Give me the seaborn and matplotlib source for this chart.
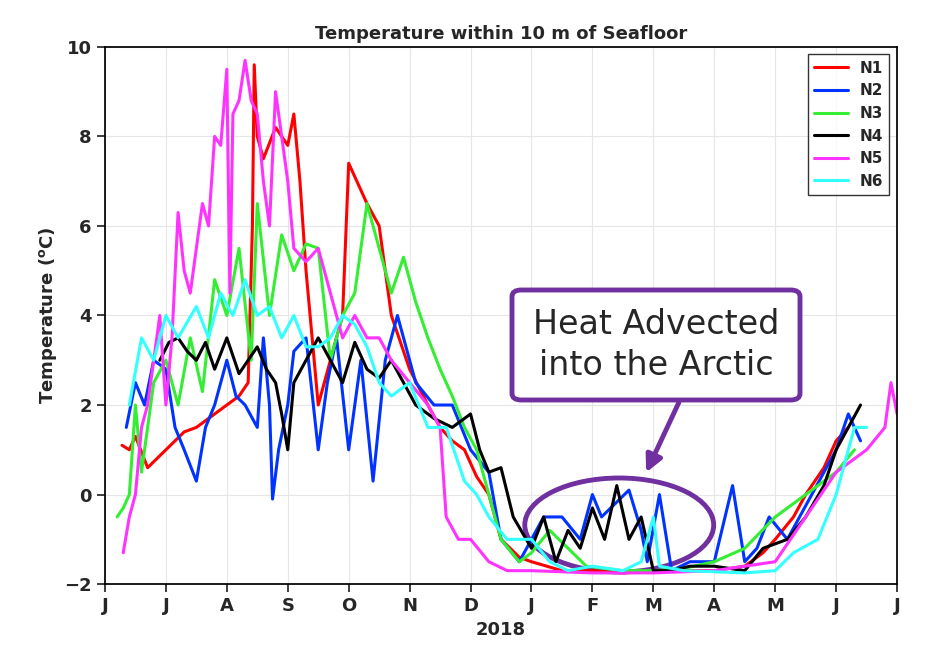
import matplotlib
matplotlib.use("Agg")
import matplotlib.pyplot as plt
import seaborn as sns
import pandas as pd
from matplotlib.patches import Ellipse, FancyBboxPatch

sns.set_theme(style="ticks")
plt.rcParams['font.family'] = ['DejaVu Sans']

month_ticks = list(range(14))
month_labels = ["J","J","A","S","O","N","D","J","F","M","A","M","J","J"]

n1_x = [0.28,0.4,0.5,0.7,1.0,1.3,1.5,1.8,2.0,2.2,2.35,2.42,2.45,2.5,2.6,2.8,3.0,3.1,3.2,3.3,3.4,3.5,3.7,3.9,4.0,4.2,4.3,4.5,4.6,4.7,4.9,5.0,5.3,5.5,5.7,5.9,6.1,6.3,6.5,6.8,7.0,7.5,8.0,8.5,9.0,9.5,10.0,10.5,10.8,11.0,11.3,11.5,11.8,12.0,12.2]
n1_y = [1.1,1.0,1.3,0.6,1.0,1.4,1.5,1.8,2.0,2.2,2.5,6.0,9.6,8.0,7.5,8.2,7.8,8.5,7.0,5.0,3.5,2.0,3.0,4.0,7.4,6.8,6.5,6.0,5.0,4.0,3.2,2.8,2.0,1.5,1.2,1.0,0.4,0.0,-1.0,-1.4,-1.5,-1.7,-1.7,-1.75,-1.7,-1.7,-1.7,-1.6,-1.3,-1.0,-0.5,0.0,0.6,1.2,1.5]

n2_x = [0.35,0.5,0.65,0.8,1.0,1.15,1.3,1.5,1.65,1.8,2.0,2.15,2.3,2.5,2.6,2.7,2.75,2.85,3.0,3.1,3.3,3.5,3.65,3.8,4.0,4.2,4.4,4.6,4.8,5.0,5.1,5.4,5.7,6.0,6.3,6.5,6.8,7.0,7.2,7.5,7.8,8.0,8.15,8.3,8.6,8.8,8.9,9.1,9.3,9.6,10.0,10.3,10.5,10.7,10.9,11.2,11.6,12.0,12.2,12.4]
n2_y = [1.5,2.5,2.0,3.0,2.8,1.5,1.0,0.3,1.5,2.0,3.0,2.2,2.0,1.5,3.5,2.0,-0.1,1.0,2.0,3.2,3.5,1.0,2.5,3.5,1.0,3.0,0.3,3.0,4.0,3.0,2.5,2.0,2.0,1.0,0.5,-1.0,-1.5,-1.0,-0.5,-0.5,-1.0,0.0,-0.5,-0.3,0.1,-0.8,-1.5,0.0,-1.7,-1.5,-1.5,0.2,-1.5,-1.2,-0.5,-1.0,0.0,1.0,1.8,1.2]

n3_x = [0.2,0.3,0.4,0.5,0.6,0.8,1.0,1.2,1.4,1.6,1.8,2.0,2.2,2.4,2.5,2.7,2.9,3.1,3.3,3.5,3.7,3.9,4.1,4.3,4.5,4.7,4.9,5.1,5.3,5.5,5.7,5.9,6.1,6.3,6.5,6.8,7.0,7.3,7.6,7.9,8.5,9.0,9.5,10.0,10.5,11.0,11.5,12.0,12.3]
n3_y = [-0.5,-0.3,0.0,2.0,0.5,2.5,3.0,2.0,3.5,2.3,4.8,4.0,5.5,3.0,6.5,4.0,5.8,5.0,5.6,5.5,3.0,4.0,4.5,6.5,5.5,4.5,5.3,4.3,3.5,2.8,2.2,1.5,1.0,0.0,-1.0,-1.5,-1.3,-0.8,-1.2,-1.6,-1.7,-1.7,-1.65,-1.5,-1.2,-0.5,0.0,0.5,1.0]

n4_x = [0.9,1.05,1.2,1.35,1.5,1.65,1.8,2.0,2.2,2.35,2.5,2.65,2.8,2.9,3.0,3.1,3.3,3.5,3.7,3.9,4.1,4.3,4.5,4.7,4.9,5.1,5.4,5.7,6.0,6.15,6.3,6.5,6.7,7.0,7.2,7.4,7.6,7.8,8.0,8.2,8.4,8.6,8.8,9.0,9.3,9.6,10.0,10.5,10.8,11.2,11.5,11.8,12.0,12.2,12.4]
n4_y = [3.0,3.4,3.5,3.2,3.0,3.4,2.8,3.5,2.7,3.0,3.3,2.8,2.5,1.8,1.0,2.5,3.0,3.5,3.0,2.5,3.4,2.8,2.6,3.0,2.5,2.0,1.7,1.5,1.8,1.0,0.5,0.6,-0.5,-1.2,-0.5,-1.5,-0.8,-1.2,-0.3,-1.0,0.2,-1.0,-0.5,-1.7,-1.7,-1.6,-1.6,-1.7,-1.2,-1.0,-0.5,0.2,1.0,1.5,2.0]

n5_x = [0.3,0.4,0.5,0.6,0.7,0.8,0.9,1.0,1.1,1.2,1.3,1.4,1.6,1.7,1.8,1.9,2.0,2.05,2.1,2.2,2.3,2.4,2.5,2.6,2.7,2.8,2.9,3.0,3.1,3.3,3.5,3.7,3.9,4.1,4.3,4.5,4.7,5.0,5.3,5.5,5.6,5.8,6.0,6.3,6.6,7.0,8.0,9.0,10.0,11.0,11.5,12.0,12.5,12.8,12.9,13.0]
n5_y = [-1.3,-0.5,0.0,1.5,2.0,3.0,4.0,2.0,3.5,6.3,5.0,4.5,6.5,6.0,8.0,7.8,9.5,4.5,8.5,8.8,9.7,8.8,8.5,7.0,6.0,9.0,8.0,7.0,5.5,5.2,5.5,4.5,3.5,4.0,3.5,3.5,3.0,2.5,2.0,1.5,-0.5,-1.0,-1.0,-1.5,-1.7,-1.7,-1.75,-1.75,-1.7,-1.5,-0.5,0.5,1.0,1.5,2.5,1.8]

n6_x = [0.4,0.6,0.8,1.0,1.2,1.5,1.7,1.9,2.1,2.3,2.5,2.7,2.9,3.1,3.3,3.5,3.7,3.9,4.1,4.3,4.5,4.7,5.0,5.3,5.6,5.9,6.1,6.3,6.6,7.0,7.3,7.6,8.0,8.5,8.8,9.0,9.1,9.5,10.5,11.0,11.3,11.7,12.0,12.3,12.5]
n6_y = [2.0,3.5,3.0,4.0,3.5,4.2,3.5,4.5,4.0,4.8,4.0,4.2,3.5,4.0,3.3,3.3,3.5,4.0,3.8,3.3,2.5,2.2,2.5,1.5,1.5,0.3,0.0,-0.5,-1.0,-1.0,-1.5,-1.7,-1.6,-1.7,-1.5,-0.5,-1.6,-1.7,-1.75,-1.7,-1.3,-1.0,0.0,1.5,1.5]

series = [("N1", n1_x, n1_y, "#ff0000"), ("N2", n2_x, n2_y, "#0033ff"),
          ("N3", n3_x, n3_y, "#33ee33"), ("N4", n4_x, n4_y, "#000000"),
          ("N5", n5_x, n5_y, "#ff33ff"), ("N6", n6_x, n6_y, "#33ffff")]

fig = plt.figure(figsize=(9.33, 6.6), dpi=100)
fig.patch.set_facecolor("white")
ax = fig.add_axes([0.1125, 0.115, 0.849, 0.814])
for name, xs, ys, c in series:
    df = pd.DataFrame({"x": xs, "y": ys})
    sns.lineplot(data=df, x="x", y="y", ax=ax, color=c, lw=2.2, label=name, sort=False)

ax.set_xlim(0, 13)
ax.set_ylim(-2, 10)
ax.set_xticks(month_ticks)
ax.set_xticklabels(month_labels, fontsize=13, fontweight="bold")
ax.set_yticks([-2, 0, 2, 4, 6, 8, 10])
ax.tick_params(axis="y", labelsize=13)
for t in ax.get_yticklabels():
    t.set_fontweight("bold")
ax.grid(True, color="#e6e6e6", lw=0.8)
ax.set_xlabel("2018", fontsize=13, fontweight="bold")
ax.set_ylabel("Temperature ($^{\\mathbf{o}}$C)", fontsize=13, fontweight="bold")
ax.set_title("Temperature within 10 m of Seafloor", fontsize=13, fontweight="bold")
for s in ax.spines.values():
    s.set_color("black")
leg = ax.legend(loc="upper right", prop={"weight": "bold", "size": 11}, frameon=True,
                fancybox=False, edgecolor="black", handlelength=2.2)

ax.add_patch(Ellipse((8.44, -0.68), 3.1, 2.1, fill=False, edgecolor="#7030a0", lw=3.5))
fig.patches.append(FancyBboxPatch((512/933, 1-400/660), 288/933, 110/660,
                                  boxstyle="round,pad=0,rounding_size=0.01",
                                  transform=fig.transFigure, fill=True, facecolor="white",
                                  edgecolor="#7030a0", lw=3.5))
fig.text(656/933, 1-345/660, "Heat Advected\ninto the Arctic", ha="center", va="center",
         fontsize=24, linespacing=1.3)
ax.annotate("", xy=(645/933, 1-475/660), xytext=(680/933, 1-400/660),
            xycoords="figure fraction", textcoords="figure fraction",
            arrowprops=dict(arrowstyle="-|>", color="#7030a0", lw=3.5, mutation_scale=25))

fig.savefig("out.png", dpi=100)
